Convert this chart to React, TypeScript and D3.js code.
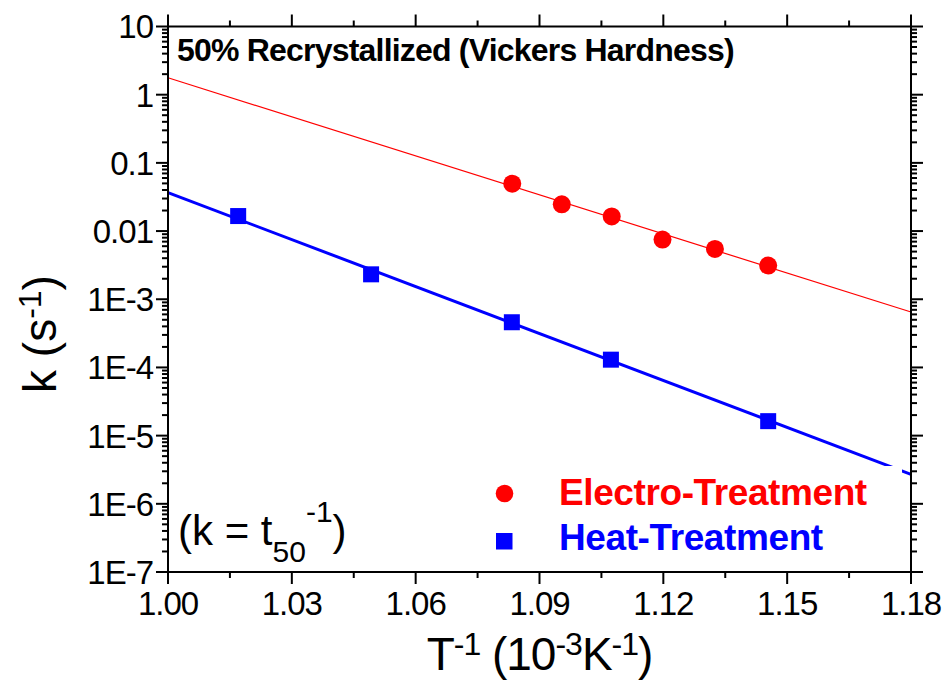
import React, { useEffect, useRef } from 'react';
import * as d3 from 'd3';

// data
const electroX = [1.0834, 1.0954, 1.1075, 1.1198, 1.1325, 1.1454];
const electroK = [0.0496, 0.0247, 0.0164, 0.0075, 0.00546, 0.00312];
const heatX = [1.017, 1.0492, 1.0833, 1.1073, 1.1454];
const heatK = [0.0166, 0.00232, 4.6e-4, 1.3e-4, 1.63e-5];

// fitted lines (end points at the frame edges)
const fitX = [1.0, 1.18];
const electroFitK = [1.77, 6.5e-4];
const heatFitK = [0.0366, 2.7e-6];

const xTicks = [1.0, 1.03, 1.06, 1.09, 1.12, 1.15, 1.18];
const xMinorTicks = [1.015, 1.045, 1.075, 1.105, 1.135, 1.165];
const yTicks = [10, 1, 0.1, 0.01, 1e-3, 1e-4, 1e-5, 1e-6, 1e-7];
const yTickLabels = ['10', '1', '0.1', '0.01', '1E-3', '1E-4', '1E-5', '1E-6', '1E-7'];

const FONT = '"Liberation Sans", Arial, sans-serif';
const W = 947;
const H = 681;

const App = () => {
  const svgRef = useRef<SVGSVGElement>(null);

  useEffect(() => {
    const svg = d3.select(svgRef.current);
    svg.selectAll('*').remove();

    const margin = { top: 26.5, right: 36, bottom: 109, left: 168 };
    const x = d3.scaleLinear().domain([1.0, 1.18]).range([margin.left, W - margin.right]);
    const y = d3.scaleLog().domain([1e-7, 10]).range([H - margin.bottom, margin.top]);
    const x0 = x.range()[0], x1 = x.range()[1];
    const y0 = y.range()[0], y1 = y.range()[1];

    const yMinor = y.ticks().filter(v => !yTicks.some(t => Math.abs(Math.log10(v) - Math.log10(t)) < 1e-6));

    // fit lines
    const line = d3.line<[number, number]>().x(d => x(d[0])).y(d => y(d[1]));
    svg.append('path')
      .attr('d', line(fitX.map((v, i) => [v, electroFitK[i]] as [number, number])))
      .attr('fill', 'none').attr('stroke', '#ff0000').attr('stroke-width', 1.2);
    svg.append('path')
      .attr('d', line(fitX.map((v, i) => [v, heatFitK[i]] as [number, number])))
      .attr('fill', 'none').attr('stroke', '#0000ff').attr('stroke-width', 3);

    // points
    svg.append('g').attr('fill', '#ff0000')
      .selectAll('circle')
      .data(electroX.map((v, i) => [v, electroK[i]]))
      .join('circle')
        .attr('cx', d => x(d[0]))
        .attr('cy', d => y(d[1]))
        .attr('r', 9);
    svg.append('g').attr('fill', '#0000ff')
      .selectAll('rect')
      .data(heatX.map((v, i) => [v, heatK[i]]))
      .join('rect')
        .attr('x', d => x(d[0]) - 8)
        .attr('y', d => y(d[1]) - 8)
        .attr('width', 16)
        .attr('height', 16);

    // legend box (white, hides the line behind it)
    const lg = svg.append('g');
    lg.append('rect').attr('x', 490).attr('y', 466).attr('width', 412).attr('height', 96).attr('fill', '#fff');
    lg.append('circle').attr('cx', 504.5).attr('cy', 493.5).attr('r', 8.8).attr('fill', '#ff0000');
    lg.append('rect').attr('x', 496).attr('y', 533).attr('width', 16.5).attr('height', 16.5).attr('fill', '#0000ff');
    lg.append('text').attr('x', 559).attr('y', 505)
      .attr('font-family', FONT).attr('font-weight', 'bold').attr('font-size', 37)
      .attr('letter-spacing', -0.4).attr('fill', '#ff0000').text('Electro-Treatment');
    lg.append('text').attr('x', 559).attr('y', 550)
      .attr('font-family', FONT).attr('font-weight', 'bold').attr('font-size', 37)
      .attr('letter-spacing', -0.4).attr('fill', '#0000ff').text('Heat-Treatment');

    // frame + ticks (all outward)
    const ax = svg.append('g').attr('stroke', '#000').attr('stroke-width', 2);
    ax.append('rect').attr('x', x0).attr('y', y1).attr('width', x1 - x0).attr('height', y0 - y1).attr('fill', 'none');
    const major = 12, minor = 6;
    xTicks.forEach(v => {
      ax.append('line').attr('x1', x(v)).attr('x2', x(v)).attr('y1', y0).attr('y2', y0 + major);
      ax.append('line').attr('x1', x(v)).attr('x2', x(v)).attr('y1', y1).attr('y2', y1 - major);
    });
    xMinorTicks.forEach(v => {
      ax.append('line').attr('x1', x(v)).attr('x2', x(v)).attr('y1', y0).attr('y2', y0 + minor);
      ax.append('line').attr('x1', x(v)).attr('x2', x(v)).attr('y1', y1).attr('y2', y1 - minor);
    });
    yTicks.forEach(v => {
      ax.append('line').attr('x1', x0).attr('x2', x0 - major).attr('y1', y(v)).attr('y2', y(v));
      ax.append('line').attr('x1', x1).attr('x2', x1 + major).attr('y1', y(v)).attr('y2', y(v));
    });
    yMinor.forEach(v => {
      ax.append('line').attr('x1', x0).attr('x2', x0 - minor).attr('y1', y(v)).attr('y2', y(v));
      ax.append('line').attr('x1', x1).attr('x2', x1 + minor).attr('y1', y(v)).attr('y2', y(v));
    });

    // tick labels
    svg.append('g').attr('font-family', FONT).attr('font-size', 33).attr('letter-spacing', -1)
      .attr('text-anchor', 'middle')
      .selectAll('text').data(xTicks).join('text')
        .attr('x', d => x(d)).attr('y', y0 + 43)
        .text(d => d.toFixed(2));
    svg.append('g').attr('font-family', FONT).attr('font-size', 33).attr('letter-spacing', -1)
      .attr('text-anchor', 'end')
      .selectAll('text').data(yTicks).join('text')
        .attr('x', x0 - 15).attr('y', d => y(d)).attr('dy', '0.36em')
        .text((d, i) => yTickLabels[i]);

    // axis titles
    const xl = svg.append('text').attr('x', (x0 + x1) / 2).attr('y', 670)
      .attr('text-anchor', 'middle').attr('font-family', FONT).attr('font-size', 46).attr('letter-spacing', -1);
    xl.append('tspan').text('T');
    xl.append('tspan').attr('font-size', 32).attr('dy', -15).text('-1');
    xl.append('tspan').attr('dy', 15).text(' (10');
    xl.append('tspan').attr('font-size', 32).attr('dy', -15).text('-3');
    xl.append('tspan').attr('dy', 15).text('K');
    xl.append('tspan').attr('font-size', 32).attr('dy', -15).text('-1');
    xl.append('tspan').attr('dy', 15).text(')');

    const yl = svg.append('text').attr('transform', 'translate(56,334) rotate(-90)')
      .attr('text-anchor', 'middle').attr('font-family', FONT).attr('font-size', 46);
    yl.append('tspan').text('k (s');
    yl.append('tspan').attr('font-size', 32).attr('dy', -15).text('-1');
    yl.append('tspan').attr('dy', 15).text(')');

    // annotations
    svg.append('text').attr('x', 177).attr('y', 61)
      .attr('font-family', FONT).attr('font-weight', 'bold').attr('font-size', 32)
      .attr('letter-spacing', -0.8).text('50% Recrystallized (Vickers Hardness)');

    const an = svg.append('text').attr('x', 178).attr('y', 545)
      .attr('font-family', FONT).attr('font-size', 42);
    an.append('tspan').text('(k = t');
    an.append('tspan').attr('font-size', 30).attr('dy', 17).text('50');
    an.append('tspan').attr('font-size', 30).attr('dy', -40).text('-1');
    an.append('tspan').attr('dy', 23).text(')');
  }, []);

  return (
    <svg ref={svgRef} width={W} height={H} viewBox={`0 0 ${W} ${H}`}
      style={{ position: 'absolute', left: 0, top: 0, background: '#fff', display: 'block' }} />
  );
};

export default App;
